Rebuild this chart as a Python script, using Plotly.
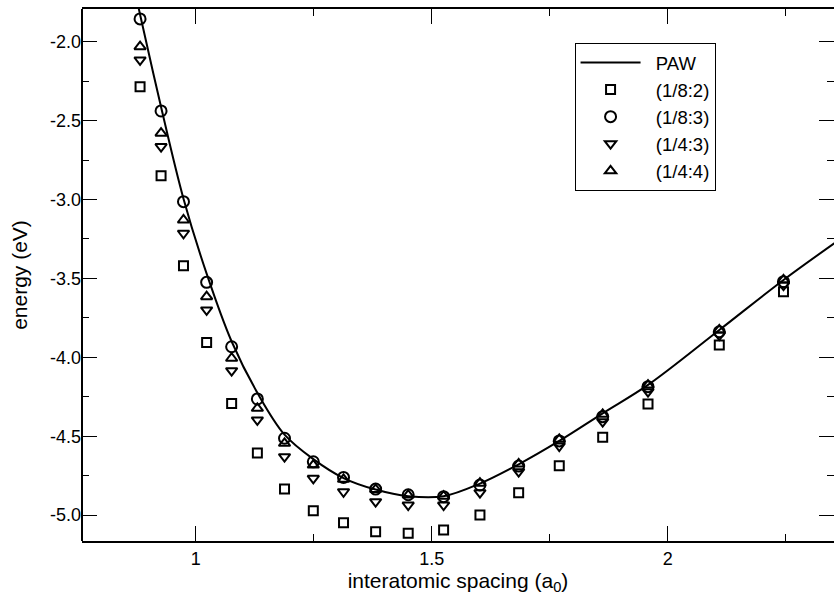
import plotly.graph_objects as go

# interatomic spacing of the sampled configurations (a0)
spacing = [0.882, 0.9265, 0.974, 1.023, 1.076, 1.1305, 1.188, 1.249, 1.313, 1.381,
           1.450, 1.525, 1.602, 1.684, 1.770, 1.862, 1.958, 2.109, 2.245]

# energies (eV) for each grid setting
e_18_2 = [-2.285, -2.849, -3.42, -3.907, -4.292, -4.606, -4.835, -4.972, -5.048, -5.105,
          -5.115, -5.094, -4.999, -4.858, -4.687, -4.507, -4.296, -3.922, -3.584]
e_18_3 = [-1.856, -2.439, -3.014, -3.525, -3.933, -4.264, -4.513, -4.662, -4.761, -4.835,
          -4.871, -4.883, -4.809, -4.689, -4.530, -4.376, -4.186, -3.838, -3.521]
e_14_3 = [-2.116, -2.665, -3.214, -3.70, -4.085, -4.397, -4.63, -4.767, -4.852, -4.915,
          -4.936, -4.936, -4.858, -4.725, -4.562, -4.408, -4.218, -3.859, -3.542]
e_14_4 = [-2.032, -2.58, -3.13, -3.616, -4.006, -4.323, -4.545, -4.683, -4.773, -4.837,
          -4.873, -4.88, -4.798, -4.676, -4.52, -4.361, -4.176, -3.827, -3.510]

# reference PAW curve
paw_x = [0.876, 0.882, 0.9265, 0.974, 1.023, 1.076, 1.1305, 1.188, 1.249, 1.313, 1.381,
         1.450, 1.525, 1.602, 1.684, 1.770, 1.862, 1.958, 2.109, 2.245, 2.360]
paw_e = [-1.745, -1.828, -2.414, -2.995, -3.47, -3.90, -4.225, -4.49, -4.645, -4.765, -4.838,
         -4.880, -4.880, -4.800, -4.678, -4.530, -4.355, -4.175, -3.827, -3.510, -3.262]

# tick positions and labels (plain hyphen minus signs)
x_ticks = [1.0, 1.5, 2.0]
x_tick_labels = ["1", "1.5", "2"]
y_ticks = [-5.0, -4.5, -4.0, -3.5, -3.0, -2.5, -2.0]
y_tick_labels = ["-5.0", "-4.5", "-4.0", "-3.5", "-3.0", "-2.5", "-2.0"]

series = [
    ("(1/8:2)", e_18_2, "square-open", 9),
    ("(1/8:3)", e_18_3, "circle-open", 11),
    ("(1/4:3)", e_14_3, "triangle-down-open", 10),
    ("(1/4:4)", e_14_4, "triangle-up-open", 10),
]

FONT = "Liberation Sans, Arial, Helvetica, sans-serif"
PAD = "\u00a0\u00a0"  # small gap between legend symbol and label

fig = go.Figure()
fig.add_trace(go.Scatter(
    x=paw_x, y=paw_e, mode="lines", name=PAD + "PAW",
    line=dict(color="black", width=2, shape="spline", smoothing=1.0),
))
for name, vals, sym, size in series:
    fig.add_trace(go.Scatter(
        x=spacing, y=vals, mode="markers", name=PAD + name,
        marker=dict(symbol=sym, size=size, color="black",
                    line=dict(color="black", width=2)),
        cliponaxis=False,
    ))

tick_common = dict(
    ticks="inside", ticklen=15, tickwidth=1, tickcolor="black",
    showgrid=False, zeroline=False,
    tickfont=dict(family=FONT, size=18, color="black"),
)

fig.update_xaxes(
    range=[0.759, 2.352], tickmode="array", tickvals=x_ticks, ticktext=x_tick_labels,
    showline=True, linecolor="black", linewidth=2, mirror="allticks",
    minor=dict(dtick=0.25, tick0=0, ticks="inside", ticklen=7, tickwidth=1,
               tickcolor="black"),
    title=dict(text="interatomic spacing (a<sub>0</sub>)", standoff=3,
               font=dict(family=FONT, size=21, color="black")),
    **tick_common,
)
fig.update_yaxes(
    range=[-5.164, -1.793], tickmode="array", tickvals=y_ticks, ticktext=y_tick_labels,
    showline=False, mirror="allticks",
    minor=dict(dtick=0.25, tick0=0, ticks="inside", ticklen=7, tickwidth=1,
               tickcolor="black"),
    title=dict(text="energy (eV)", standoff=16,
               font=dict(family=FONT, size=21, color="black")),
    **tick_common,
)

# left frame edge
fig.add_shape(type="line", xref="paper", yref="paper", x0=0, x1=0, y0=0, y1=1,
              line=dict(color="black", width=2), layer="above")

fig.update_layout(
    width=834, height=601,
    margin=dict(l=82, r=0, t=9, b=60),
    paper_bgcolor="white", plot_bgcolor="white",
    font=dict(family=FONT, color="black"),
    showlegend=True,
    legend=dict(
        x=0.655, y=0.936, xanchor="left", yanchor="top",
        bordercolor="black", borderwidth=1, bgcolor="white",
        font=dict(family=FONT, size=18.5, color="black"),
        itemwidth=60, tracegroupgap=0,
    ),
)

fig.write_html("out.html")
